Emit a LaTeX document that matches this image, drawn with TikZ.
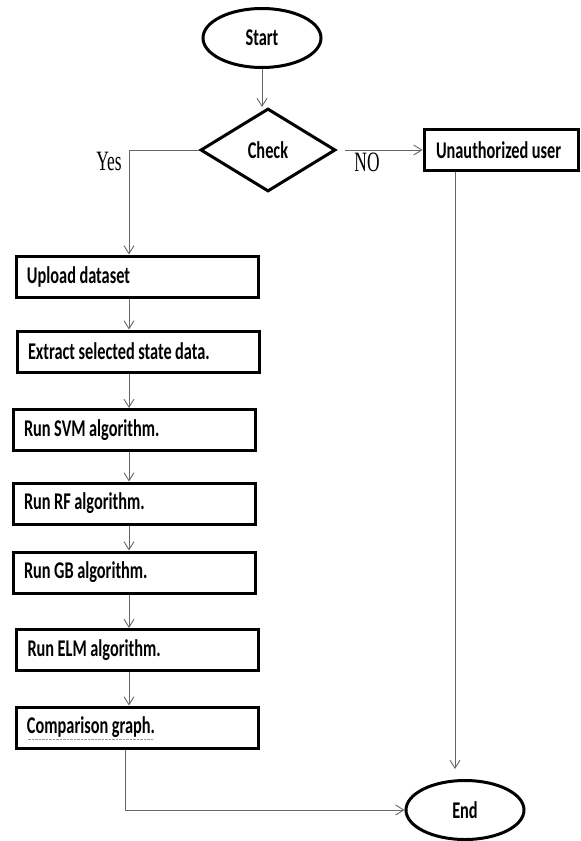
\documentclass[tikz,border=0pt]{standalone}
\usepackage{fontspec}
\setmainfont{Carlito}
\newfontfamily\boxfont[FakeStretch=0.68]{Carlito}
\newfontfamily\branchfont[FakeStretch=0.62]{Liberation Serif}
\newcommand\boxtext{\boxfont\bfseries\fontsize{24}{27}\selectfont\spaceskip=3.5pt plus 1pt minus 1pt\relax}
\usetikzlibrary{positioning, arrows.meta, shapes.geometric}

\begin{document}
\begin{tikzpicture}[
        x=1pt, y=-1pt,
        terminal/.style={
            draw,
            ellipse,
            line width=3pt,
            minimum width=118pt,
            minimum height=59pt,
            inner sep=0pt,
            font=\boxtext
        },
        decision/.style={
            draw,
            diamond,
            aspect=1.61,
            line width=3pt,
            minimum width=135pt,
            minimum height=83pt,
            inner sep=0pt,
            font=\boxtext
        },
        process/.style={
            draw,
            rectangle,
            line width=3pt,
            minimum width=242pt,
            minimum height=41pt,
            inner xsep=11pt,
            text width=220pt,
            align=flush left,
            font=\boxtext
        },
        branch/.style={
            font=\branchfont\fontsize{28}{30}\selectfont
        },
        arrow/.style={
            -{Straight Barb[length=8pt,width=10pt]},
            line width=0.9pt,
            draw=black!60
        }
    ]
        \useasboundingbox (0,0) rectangle (581,841);

        % Start and check
        \node (start) [terminal] at (262,38) {Start};
        \node (check) [decision] at (268,150) {Check};
        \node (unauth) [process, minimum width=154pt, text width=130pt] at (501,150) {Unauthorized user};

        % Main branch
        \node (upload) [process] at (137,276.5) {Upload dataset};
        \node (extract) [process] at (138,351.5) {Extract selected state data.};
        \node (svm) [process] at (134,430) {Run SVM algorithm.};
        \node (rf) [process] at (134,503.5) {Run RF algorithm.};
        \node (gb) [process] at (134,572.5) {Run GB algorithm.};
        \node (elm) [process] at (137.5,650) {Run ELM algorithm.};
        \node (comp) [process] at (137,727.5) {Comparison graph.};
        \draw [densely dotted, black!40] ([xshift=13pt,yshift=-11.5pt]comp.west) -- ++(126,0);

        \node (end) [terminal] at (465,810) {End};

        % Labels
        \node (yes) [branch] at (109,161) {Yes};
        \node (no) [branch] at (367,162) {NO};

        % Connections
        \coordinate (spine) at (129,0);
        \draw [arrow] (start.south) -- (start.south |- check.north);
        \draw [arrow] (check.west) -| (spine |- upload.north);
        \draw [arrow] ([xshift=8pt]check.east) -- (unauth.west);
        \foreach \a/\b in {upload/extract, extract/svm, svm/rf, rf/gb, gb/elm, elm/comp}
            \draw [arrow] (spine |- \a.south) -- (spine |- \b.north);
        \draw [arrow] ([xshift=-12pt]comp.south) |- (end.west);
        \draw [arrow, shorten >=10pt] ([xshift=-46pt]unauth.south) -- ([xshift=-46pt]unauth.south |- end.north);
    \end{tikzpicture}
\end{document}
